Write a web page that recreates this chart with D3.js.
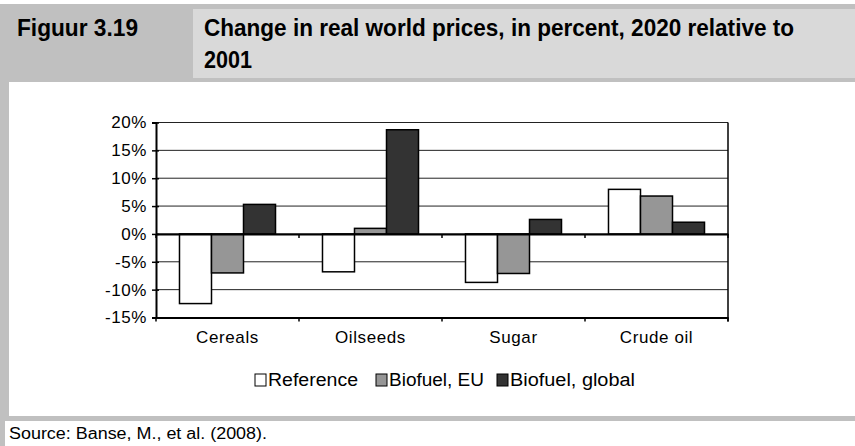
<!DOCTYPE html>
<html>
<head>
<meta charset="utf-8">
<script src="https://cdn.jsdelivr.net/npm/d3@7"></script>
<style>
  body { margin: 0; background: #fff; }
  svg { display: block; }
</style>
</head>
<body>
<svg id="chart" width="855" height="446"></svg>
<script>
const categories = ["Cereals", "Oilseeds", "Sugar", "Crude oil"];
const seriesNames = ["Reference", "Biofuel, EU", "Biofuel, global"];
const reference = [-12.5, -6.8, -8.7, 8.0];
const biofuelEU = [-7.0, 1.0, -7.1, 6.8];
const biofuelGlobal = [5.3, 18.7, 2.6, 2.1];
const yTicks = [-15, -10, -5, 0, 5, 10, 15, 20];
const colors = ["#ffffff", "#969696", "#333333"];

const svg = d3.select("#chart");
const W = 855, H = 446;

// frame / header
svg.append("rect").attr("x", 0).attr("y", 4).attr("width", W).attr("height", 78).attr("fill", "#c0c0c0");
svg.append("rect").attr("x", 193).attr("y", 9).attr("width", W - 193).attr("height", 69).attr("fill", "#d9d9d9");
svg.append("rect").attr("x", 0).attr("y", 82).attr("width", 9).attr("height", 334).attr("fill", "#c0c0c0");
svg.append("rect").attr("x", 0).attr("y", 416).attr("width", W).attr("height", 5).attr("fill", "#c0c0c0");
svg.append("rect").attr("x", 0).attr("y", 421).attr("width", 5).attr("height", 25).attr("fill", "#c0c0c0");

const font = "'Liberation Sans', Arial, sans-serif";

// condensed look: squeeze regular glyphs to the measured widths
function squeezed(x, yPos, txt, size, len, bold) {
  return svg.append("text").attr("x", x).attr("y", yPos)
    .attr("font-family", font).attr("font-weight", bold ? "bold" : "normal")
    .attr("font-size", size).attr("textLength", len).attr("lengthAdjust", "spacingAndGlyphs")
    .attr("fill", "#000").text(txt);
}
squeezed(17, 36, "Figuur 3.19", 24, 121, true);
squeezed(204, 36, "Change in real world prices, in percent, 2020 relative to", 24, 590, true);
squeezed(204, 68, "2001", 24, 48, true);
squeezed(9, 439, "Source: Banse, M., et al. (2008).", 16, 258, false);

// chart
const plotLeft = 156, plotRight = 728, plotTop = 122.5, plotBottom = 317.5;
const x0 = d3.scaleBand().domain(categories).range([plotLeft, plotRight]).padding(0);
const x1 = d3.scaleBand().domain(seriesNames).range([0, x0.bandwidth()]).paddingInner(0).paddingOuter(0.734);
const y = d3.scaleLinear().domain([-15, 20]).range([plotBottom, plotTop]);

// gridlines
svg.append("g").selectAll("line").data(yTicks).join("line")
  .attr("x1", plotLeft).attr("x2", plotRight)
  .attr("y1", d => y(d)).attr("y2", d => y(d))
  .attr("stroke", "#222").attr("stroke-width", 1);

// right border
svg.append("line").attr("x1", plotRight).attr("x2", plotRight).attr("y1", plotTop).attr("y2", plotBottom + 4)
  .attr("stroke", "#000").attr("stroke-width", 1.5);

// bars
const table = categories.map((c, i) => ({ cat: c, vals: [reference[i], biofuelEU[i], biofuelGlobal[i]] }));
const groups = svg.append("g").selectAll("g").data(table).join("g")
  .attr("transform", d => `translate(${x0(d.cat)},0)`);
groups.selectAll("rect").data(d => d.vals.map((v, j) => ({ v, s: seriesNames[j], j }))).join("rect")
  .attr("x", d => x1(d.s))
  .attr("width", x1.bandwidth())
  .attr("y", d => y(Math.max(0, d.v)))
  .attr("height", d => Math.abs(y(d.v) - y(0)))
  .attr("fill", d => colors[d.j])
  .attr("stroke", "#000").attr("stroke-width", 1.5);

// category ticks at band edges
function edgeTicks(g, yPos) {
  const edges = categories.map(c => x0(c)).concat([plotRight]);
  g.selectAll("line").data(edges).join("line")
    .attr("x1", d => d).attr("x2", d => d).attr("y1", yPos).attr("y2", yPos + 4)
    .attr("stroke", "#000").attr("stroke-width", 1.5);
}

// zero axis
const zeroAxis = svg.append("g").attr("transform", `translate(0,${y(0)})`)
  .call(d3.axisBottom(x0).tickSize(0).tickFormat("").tickSizeOuter(0));
zeroAxis.selectAll(".tick").remove();
zeroAxis.select(".domain").attr("stroke", "#000").attr("stroke-width", 2);
edgeTicks(svg.append("g"), y(0));

// bottom axis
const bottomAxis = svg.append("g").attr("transform", `translate(0,${plotBottom})`)
  .call(d3.axisBottom(x0).tickSize(0).tickPadding(13).tickSizeOuter(0));
bottomAxis.select(".domain").attr("stroke", "#000").attr("stroke-width", 2);
bottomAxis.selectAll("text").attr("font-family", font).attr("font-size", 17)
  .attr("letter-spacing", 0.6).attr("fill", "#000");
edgeTicks(svg.append("g"), plotBottom);

// y axis
const yAxis = svg.append("g").attr("transform", `translate(${plotLeft},0)`)
  .call(d3.axisLeft(y).tickValues(yTicks).tickSize(4).tickPadding(5).tickFormat(d => d + "%"));
yAxis.select(".domain").attr("stroke", "#000").attr("stroke-width", 2);
yAxis.selectAll(".tick line").attr("x2", -4).attr("x1", 3).attr("stroke", "#000").attr("stroke-width", 1.5);
yAxis.selectAll("text").attr("font-family", font).attr("font-size", 17)
  .attr("letter-spacing", 0.6).attr("fill", "#000");

// legend
const legendX = [255, 376, 497];
const legendLen = [90, 95, 125];
const legend = svg.append("g").selectAll("g").data(seriesNames).join("g")
  .attr("transform", (d, i) => `translate(${legendX[i]},380)`);
legend.append("rect").attr("x", 0).attr("y", -6).attr("width", 11).attr("height", 12)
  .attr("fill", (d, i) => colors[i]).attr("stroke", "#000").attr("stroke-width", 1);
legend.append("text").attr("x", 13).attr("y", 6).attr("font-family", font)
  .attr("font-size", 18).attr("textLength", (d, i) => legendLen[i])
  .attr("lengthAdjust", "spacingAndGlyphs").text(d => d);
</script>
</body>
</html>
